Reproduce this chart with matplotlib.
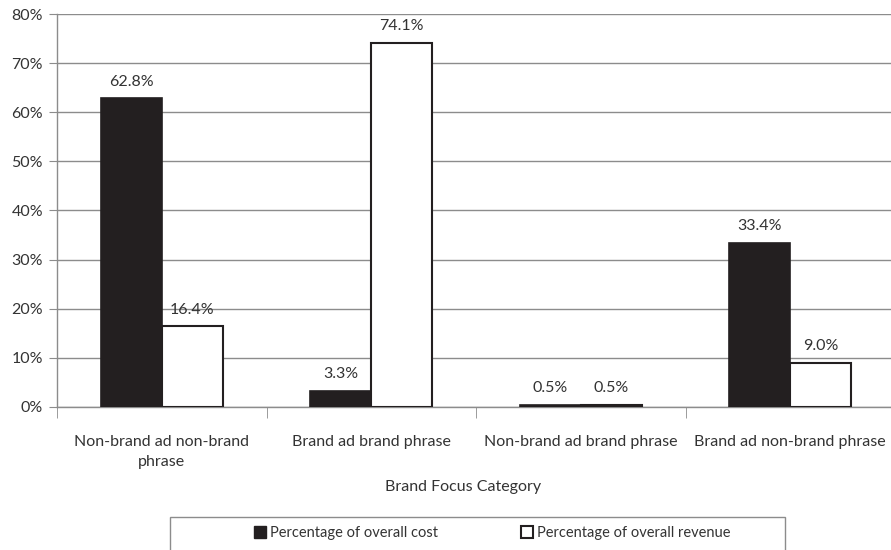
import matplotlib
matplotlib.use("Agg")
import matplotlib.pyplot as plt
from matplotlib.patches import Rectangle
from matplotlib.lines import Line2D
import numpy as np

categories = ["Non-brand ad non-brand\nphrase", "Brand ad brand phrase",
              "Non-brand ad brand phrase", "Brand ad non-brand phrase"]
cost = [62.8, 3.3, 0.5, 33.4]
revenue = [16.4, 74.1, 0.5, 9.0]
series_names = ["Percentage of overall cost", "Percentage of overall revenue"]
yticks = [0, 10, 20, 30, 40, 50, 60, 70, 80]

plt.rcParams['font.family'] = ['Lato', 'DejaVu Sans']
txt = '#333333'
W, H = 891, 550
fig = plt.figure(figsize=(W/100, H/100), dpi=100)
left, right, top, bottom = 57, 895, 14, 407
ax = fig.add_axes([left/W, 1-bottom/H, (right-left)/W, (bottom-top)/H])

x = np.arange(len(categories))
bw = 0.29
ax.bar(x - bw/2, cost, bw, color='#231f20', edgecolor='#231f20', linewidth=1.2, zorder=3)
ax.bar(x + bw/2, revenue, bw, color='white', edgecolor='#231f20', linewidth=1.5, zorder=3)

for xi, v in zip(x - bw/2, cost):
    ax.annotate(f"{v:.1f}%", (xi, v), xytext=(0, 7), textcoords='offset points',
                ha='center', va='bottom', fontsize=11.5, color=txt)
for xi, v in zip(x + bw/2, revenue):
    ax.annotate(f"{v:.1f}%", (xi, v), xytext=(0, 7), textcoords='offset points',
                ha='center', va='bottom', fontsize=11.5, color=txt)

ax.set_xlim(-0.5, len(categories) - 0.5)
ax.set_ylim(0, 80)
ax.set_yticks(yticks)
ax.set_yticklabels([f"{t}%" for t in yticks], fontsize=11.5, color=txt)
ax.yaxis.grid(True, color='#8c8c8c', linewidth=1.0, zorder=0)
ax.tick_params(axis='y', length=6, color='#8c8c8c', pad=4)

ax.set_xticks(x)
ax.set_xticklabels(categories, fontsize=11.5, color=txt, linespacing=1.6)
ax.set_xticks(np.arange(len(categories) + 1) - 0.5, minor=True)
ax.tick_params(axis='x', which='major', length=0, pad=20)
ax.tick_params(axis='x', which='minor', length=8, color='#8c8c8c')

for s in ['top', 'right']:
    ax.spines[s].set_visible(False)
for s in ['left', 'bottom']:
    ax.spines[s].set_color('#8c8c8c')
    ax.spines[s].set_linewidth(1.0)

fig.text(463/W, 1-487/H, "Brand Focus Category", ha='center', va='center',
         fontsize=11.5, color=txt)

# legend box
fig.patches.append(Rectangle((170/W, -0.05), (785-170)/W, 0.05 + (550-517)/H,
                             transform=fig.transFigure, facecolor='white',
                             edgecolor='#8c8c8c', linewidth=1.0))
handles = [Line2D([], [], marker='s', linestyle='none', markersize=8,
                  markerfacecolor='#231f20', markeredgecolor='#231f20'),
           Line2D([], [], marker='s', linestyle='none', markersize=8,
                  markerfacecolor='white', markeredgecolor='#231f20', markeredgewidth=1.5)]
fig.legend(handles, series_names, loc='center', bbox_to_anchor=(493/W, 1-533/H),
           ncol=2, frameon=False, fontsize=10.5, handlelength=0.6, handletextpad=0.4,
           columnspacing=5.8, labelcolor=txt)

fig.savefig("out.png", dpi=100)
